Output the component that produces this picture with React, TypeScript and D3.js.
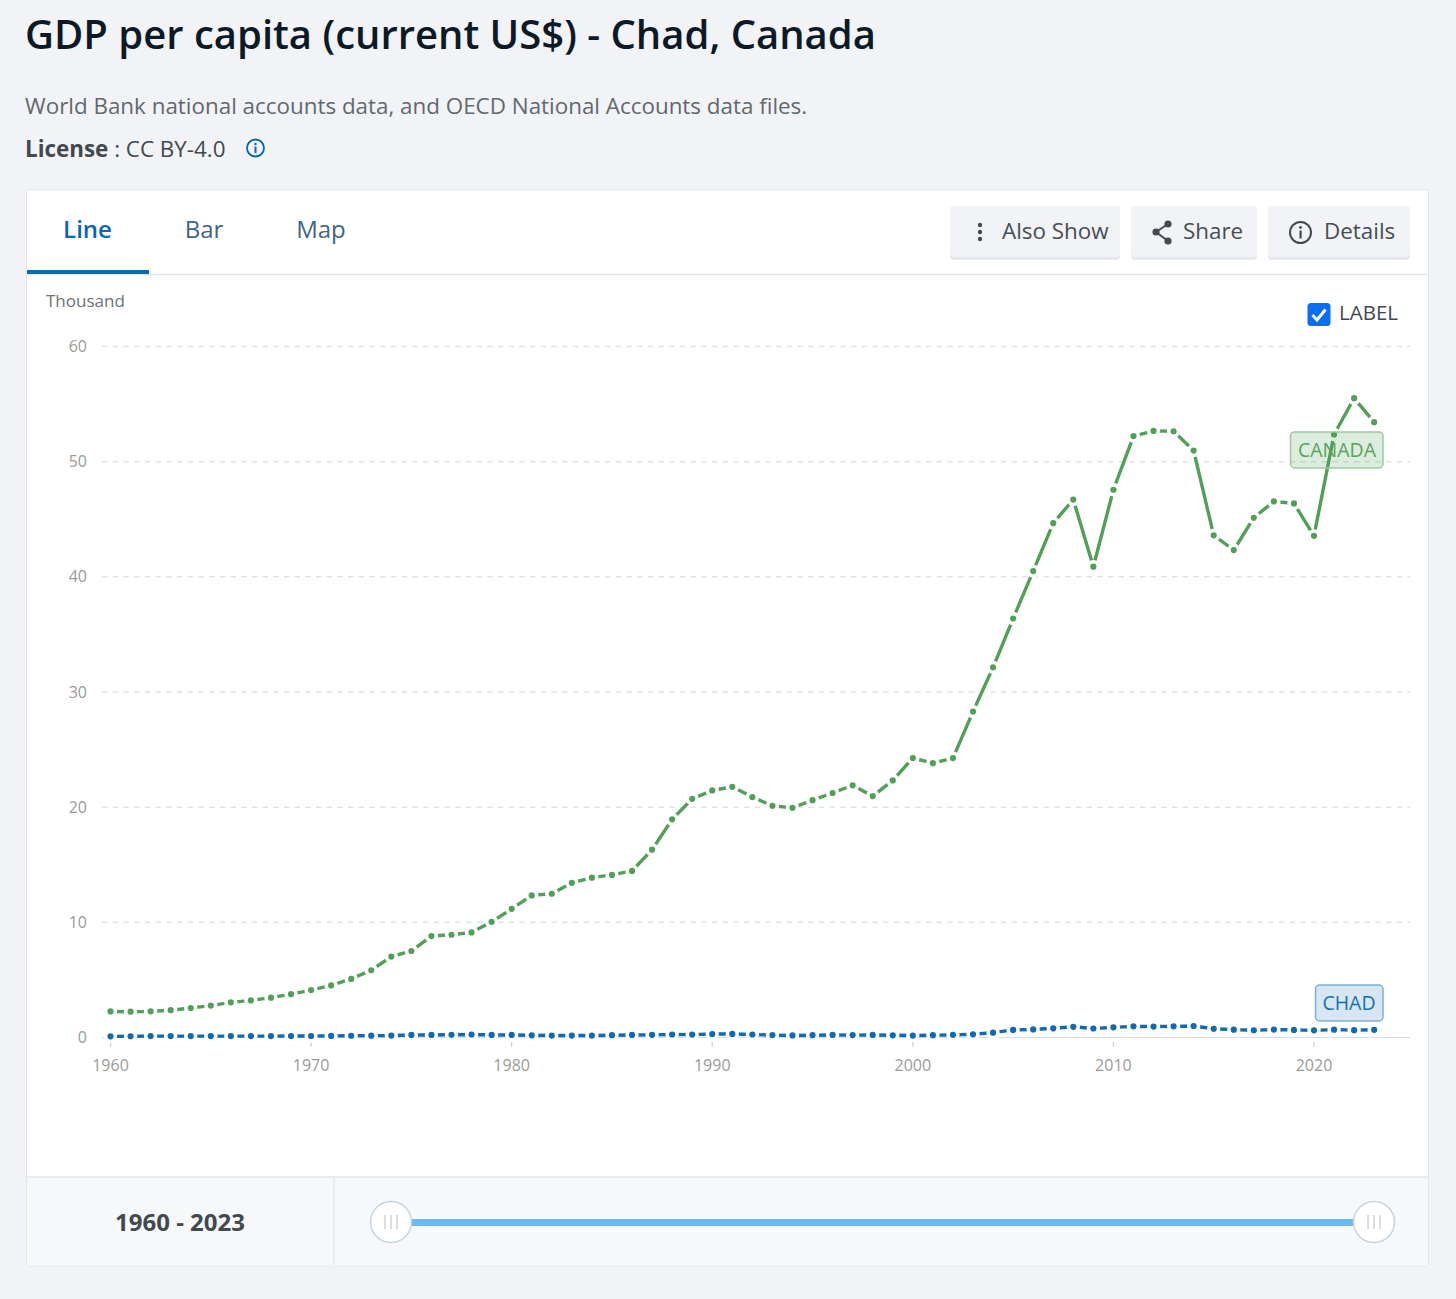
import { useEffect, useRef } from "react"
import * as d3 from "d3"

const years = d3.range(1960, 2024)

const canadaValues = [
  2.26, 2.24, 2.27, 2.37, 2.56, 2.77, 3.05, 3.22, 3.46, 3.76,
  4.12, 4.52, 5.09, 5.84, 7.03, 7.51, 8.81, 8.92, 9.12, 10.04,
  11.17, 12.34, 12.48, 13.43, 13.88, 14.12, 14.46, 16.31, 18.94, 20.72,
  21.45, 21.77, 20.88, 20.12, 19.94, 20.61, 21.23, 21.9, 20.96, 22.32,
  24.27, 23.82, 24.26, 28.3, 32.14, 36.38, 40.5, 44.66, 46.71, 40.88,
  47.56, 52.22, 52.67, 52.64, 50.96, 43.6, 42.32, 45.13, 46.55, 46.37,
  43.56, 52.36, 55.51, 53.43,
]

const chadValues = [
  0.1, 0.11, 0.12, 0.12, 0.12, 0.12, 0.12, 0.12, 0.12, 0.13,
  0.13, 0.14, 0.15, 0.16, 0.17, 0.22, 0.22, 0.24, 0.26, 0.22,
  0.22, 0.19, 0.17, 0.17, 0.17, 0.2, 0.22, 0.23, 0.26, 0.25,
  0.3, 0.31, 0.26, 0.21, 0.18, 0.2, 0.22, 0.21, 0.22, 0.19,
  0.17, 0.2, 0.23, 0.28, 0.42, 0.66, 0.7, 0.8, 0.93, 0.78,
  0.88, 0.97, 0.95, 0.97, 1.0, 0.76, 0.68, 0.63, 0.69, 0.66,
  0.62, 0.68, 0.64, 0.67,
]

const yTicks = [0, 10, 20, 30, 40, 50, 60]
const xTicks = [1960, 1970, 1980, 1990, 2000, 2010, 2020]
const tabs = ["Line", "Bar", "Map"]

const FONT = "'Open Sans', sans-serif"
const GREEN = "#529f57"
const BLUE = "#0f6ab3"

export default function App() {
  const svgRef = useRef<SVGSVGElement>(null)

  useEffect(() => {
    if (!svgRef.current) return
    const svg = d3.select(svgRef.current)
    svg.selectAll("*").remove()

    const x = d3.scaleLinear().domain([1960, 2020]).range([110.5, 1314])
    const y = d3.scaleLinear().domain([0, 60]).range([1037.5, 346.5])

    const text = (
      parent: any,
      str: string,
      px: number,
      py: number,
      size: number,
      fill: string,
      weight = 400,
      anchor = "start"
    ) =>
      parent
        .append("text")
        .attr("x", px)
        .attr("y", py)
        .attr("font-size", size)
        .attr("font-weight", weight)
        .attr("text-anchor", anchor)
        .attr("fill", fill)
        .text(str)

    svg.append("rect").attr("width", 1456).attr("height", 1299).attr("fill", "#f1f3f7")

    // Heading
    text(svg, "GDP per capita (current US$) - Chad, Canada", 25, 49, 40, "#0b1a26", 600)
    text(svg, "World Bank national accounts data, and OECD National Accounts data files.", 25, 114, 22.4, "#63686d")
    const lic = text(svg, "", 25, 157, 22.4, "#41494f")
    lic.append("tspan").attr("font-weight", 700).text("License")
    lic.append("tspan").text(" : CC BY-4.0")

    const info = svg.append("g").attr("transform", "translate(255.5,148)")
    info.append("circle").attr("r", 8.5).attr("fill", "none").attr("stroke", "#0a66b5").attr("stroke-width", 1.8)
    info.append("rect").attr("x", -1).attr("y", -1.5).attr("width", 2).attr("height", 6.5).attr("fill", "#0a66b5")
    info.append("circle").attr("cy", -4).attr("r", 1.2).attr("fill", "#0a66b5")

    // Card
    svg
      .append("rect")
      .attr("x", 26.5)
      .attr("y", 190)
      .attr("width", 1402)
      .attr("height", 1076)
      .attr("rx", 2)
      .attr("fill", "#fff")
      .attr("stroke", "#e2e6eb")
    svg.append("line").attr("x1", 27).attr("x2", 1428).attr("y1", 274.5).attr("y2", 274.5).attr("stroke", "#e2e6eb").attr("stroke-width", 1.5)
    svg.append("rect").attr("x", 27).attr("y", 270).attr("width", 122).attr("height", 4).attr("fill", "#0a69b8")

    const tabX = [87.5, 204, 321]
    tabs.forEach((t, i) => {
      text(svg, t, tabX[i], 238, 24, i === 0 ? "#0a66b5" : "#3e6785", i === 0 ? 600 : 400, "middle")
    })

    // Buttons
    const buttons = [
      { label: "Also Show", x0: 950, x1: 1120, tx: 1002 },
      { label: "Share", x0: 1131, x1: 1257, tx: 1183 },
      { label: "Details", x0: 1268, x1: 1410, tx: 1324 },
    ]
    buttons.forEach((b) => {
      svg.append("rect").attr("x", b.x0).attr("y", 206).attr("width", b.x1 - b.x0).attr("height", 54).attr("rx", 4).attr("fill", "#e5e8ec")
      svg.append("rect").attr("x", b.x0).attr("y", 206).attr("width", b.x1 - b.x0).attr("height", 51).attr("rx", 4).attr("fill", "#f1f3f6")
      text(svg, b.label, b.tx, 239, 22.4, "#464e54")
    })
    const iconColor = "#434b51"
    ;[-7, 0, 7].forEach((d) => {
      svg.append("circle").attr("cx", 980).attr("cy", 232 + d).attr("r", 2.2).attr("fill", iconColor)
    })
    const sharePts: [number, number][] = [[1168, 224], [1156, 232], [1168, 241]]
    svg
      .append("path")
      .attr("d", d3.line()(sharePts))
      .attr("fill", "none")
      .attr("stroke", iconColor)
      .attr("stroke-width", 2)
    sharePts.forEach(([cx, cy]) => {
      svg.append("circle").attr("cx", cx).attr("cy", cy).attr("r", 3.6).attr("fill", iconColor)
    })
    const det = svg.append("g").attr("transform", "translate(1300.5,232.5)")
    det.append("circle").attr("r", 10.5).attr("fill", "none").attr("stroke", iconColor).attr("stroke-width", 2)
    det.append("rect").attr("x", -1).attr("y", -2).attr("width", 2.2).attr("height", 8).attr("fill", iconColor)
    det.append("circle").attr("cy", -5).attr("r", 1.4).attr("fill", iconColor)

    // Unit label and checkbox
    text(svg, "Thousand", 46, 307, 17, "#6d7277")
    svg.append("rect").attr("x", 1307.5).attr("y", 303).attr("width", 23).attr("height", 23).attr("rx", 3.5).attr("fill", "#0b6cf5")
    svg
      .append("path")
      .attr("d", "M1312.5 315 L1317 320 L1325.5 309.5")
      .attr("fill", "none")
      .attr("stroke", "#fff")
      .attr("stroke-width", 3)
    text(svg, "LABEL", 1339, 320, 20.5, "#41494f")

    // Grid and y axis
    const grid = svg.append("g")
    yTicks.forEach((t) => {
      if (t > 0) {
        grid
          .append("line")
          .attr("x1", 102)
          .attr("x2", 1410)
          .attr("y1", y(t))
          .attr("y2", y(t))
          .attr("stroke", "#e2e2e2")
          .attr("stroke-width", 1.5)
          .attr("stroke-dasharray", "5.5 5.2")
      }
      text(svg, String(t), 87, y(t) + 5.5, 16, "#9a9a9a", 400, "end")
    })
    svg.append("line").attr("x1", 102).attr("x2", 1410).attr("y1", y(0)).attr("y2", y(0)).attr("stroke", "#d5dde6").attr("stroke-width", 1.2)

    // X axis
    xTicks.forEach((t) => {
      svg.append("line").attr("x1", x(t)).attr("x2", x(t)).attr("y1", 1042).attr("y2", 1047).attr("stroke", "#cfcfcf").attr("stroke-width", 1.2)
      text(svg, String(t), x(t), 1071, 16, "#9a9a9a", 400, "middle")
    })

    // Series
    const drawSeries = (values: number[], color: string) => {
      const line = d3
        .line<number>()
        .x((_, i) => x(years[i]))
        .y((d) => y(d))
      svg
        .append("path")
        .attr("d", line(values))
        .attr("fill", "none")
        .attr("stroke", color)
        .attr("stroke-width", 3.4)
      const pts = svg.append("g")
      pts
        .selectAll("circle")
        .data(values)
        .enter()
        .append("circle")
        .attr("cx", (_, i) => x(years[i]))
        .attr("cy", (d) => y(d))
        .attr("r", 4.9)
        .attr("fill", color)
        .attr("stroke", "#fff")
        .attr("stroke-width", 3.6)
    }
    drawSeries(chadValues, BLUE)
    drawSeries(canadaValues, GREEN)

    // End labels
    svg
      .append("rect")
      .attr("x", 1290.5)
      .attr("y", 432)
      .attr("width", 92.5)
      .attr("height", 36)
      .attr("rx", 4)
      .attr("fill", GREEN)
      .attr("fill-opacity", 0.2)
      .attr("stroke", "#9ccb9f")
      .attr("stroke-width", 1.5)
    text(svg, "CANADA", 1337, 457, 19.5, "#5aa35e", 400, "middle")
    svg
      .append("rect")
      .attr("x", 1315.5)
      .attr("y", 985)
      .attr("width", 67.5)
      .attr("height", 36)
      .attr("rx", 4)
      .attr("fill", BLUE)
      .attr("fill-opacity", 0.17)
      .attr("stroke", "#7fb0d6")
      .attr("stroke-width", 1.5)
    text(svg, "CHAD", 1349, 1010, 19.5, "#1470b6", 400, "middle")

    // Range footer
    svg.append("rect").attr("x", 27).attr("y", 1177).attr("width", 1401).attr("height", 88.5).attr("fill", "#f7f8fa")
    svg.append("line").attr("x1", 27).attr("x2", 1428).attr("y1", 1177).attr("y2", 1177).attr("stroke", "#e2e6eb").attr("stroke-width", 1.5)
    svg.append("line").attr("x1", 334).attr("x2", 334).attr("y1", 1177).attr("y2", 1265).attr("stroke", "#e2e6eb").attr("stroke-width", 1.5)
    text(svg, "1960 - 2023", 180, 1231, 24, "#41494f", 700, "middle")
    svg.append("rect").attr("x", 391).attr("y", 1219).attr("width", 983).attr("height", 7).attr("fill", "#6bb9ee")
    ;[391, 1374].forEach((cx) => {
      svg.append("circle").attr("cx", cx).attr("cy", 1222).attr("r", 20.5).attr("fill", "#fff").attr("stroke", "#c6d4dd").attr("stroke-width", 1.5)
      ;[-6, 0, 6].forEach((d) => {
        svg.append("line").attr("x1", cx + d).attr("x2", cx + d).attr("y1", 1215).attr("y2", 1229).attr("stroke", "#d2d2d2").attr("stroke-width", 1.5)
      })
    })
  }, [])

  return (
    <svg
      ref={svgRef}
      width={1456}
      height={1299}
      style={{ position: "absolute", top: 0, left: 0, display: "block", fontFamily: FONT }}
    />
  )
}
